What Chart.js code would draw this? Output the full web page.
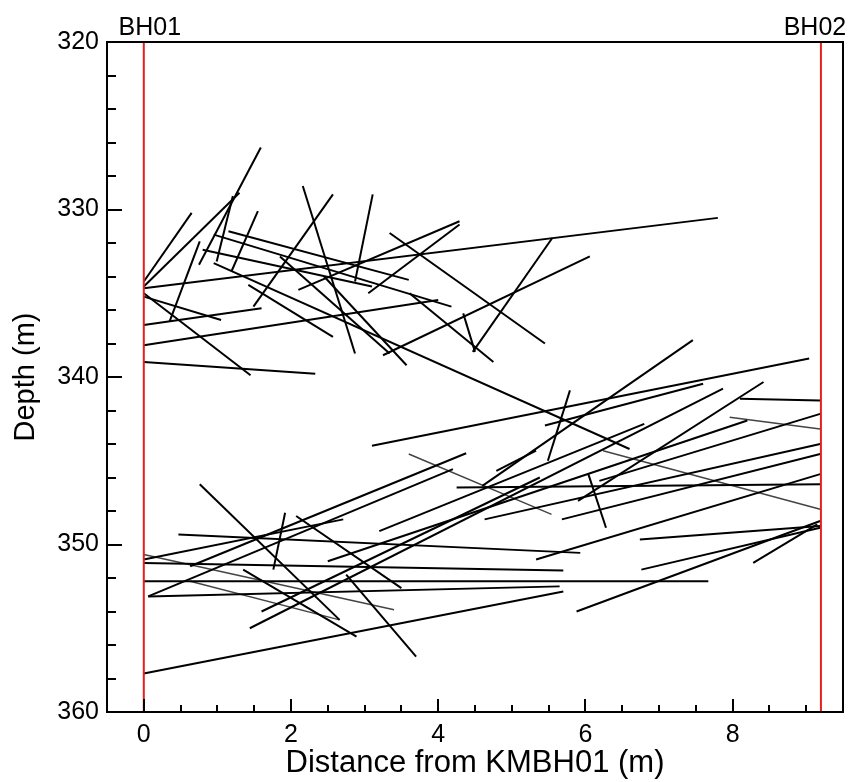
<!DOCTYPE html>
<html>
<head>
<meta charset="utf-8">
<script src="https://cdn.jsdelivr.net/npm/chart.js@4.4.1/dist/chart.umd.min.js"></script>
<style>
  html, body { margin: 0; padding: 0; background: #fff; }
</style>
</head>
<body>
<canvas id="fracChart" width="855" height="782"></canvas>
<script>
// borehole positions along the section (m)
const boreholeX = [0, 9.2];
const boreholeNames = ['BH01', 'BH02'];
const depthRange = [320, 360];
const distRange = [-0.5, 9.5];
const xTicks = [0, 2, 4, 6, 8];
const yTicks = [320, 330, 340, 350, 360];

// fracture traces, each [x0, depth0, x1, depth1]
const upperFractures = [
  [0, 334.7, 7.8, 330.5],
  [0, 334.3, 0.65, 330.2],
  [0, 334.6, 1.3, 329.0],
  [1.59, 326.3, 0.75, 333.3],
  [0.76, 331.9, 0.35, 336.7],
  [1.21, 329.2, 0.99, 333.1],
  [1.55, 330.1, 1.19, 333.7],
  [0, 335.0, 1.45, 339.9],
  [0, 335.2, 1.05, 336.6],
  [0, 336.9, 1.6, 335.9],
  [0, 338.1, 4.0, 335.4],
  [0, 339.1, 2.33, 339.8],
  [2.16, 328.6, 2.87, 338.6],
  [2.57, 329.1, 1.49, 335.8],
  [3.11, 329.1, 2.87, 334.3],
  [4.29, 330.7, 2.1, 334.8],
  [4.29, 330.9, 3.05, 335.0],
  [3.34, 331.4, 5.45, 338.0],
  [5.55, 331.7, 4.47, 338.5],
  [6.06, 332.8, 3.25, 338.7],
  [4.34, 336.2, 4.5, 338.5],
  [3.61, 335.0, 4.75, 339.1],
  [0.95, 333.2, 6.6, 344.3],
  [0.95, 331.5, 4.18, 335.8],
  [1.15, 331.3, 3.6, 334.2],
  [0.8, 332.4, 3.1, 334.6],
  [2.45, 334.0, 3.57, 339.3],
  [1.42, 334.5, 2.57, 337.6],
  [1.85, 332.8, 3.34, 338.6]
];
const lowerFractures = [
  [0, 357.7, 5.7, 352.8],
  [0, 351.1, 5.7, 351.55],
  [0, 352.2, 7.67, 352.2],
  [0.06, 353.1, 5.65, 352.5],
  [0.06, 353.1, 4.2, 345.5],
  [0.47, 349.4, 5.93, 350.5],
  [0.76, 346.4, 2.66, 354.5],
  [1.92, 348.1, 1.76, 351.5],
  [0.63, 351.3, 4.38, 344.55],
  [0, 350.9, 2.71, 348.5],
  [1.44, 355.0, 7.87, 340.7],
  [1.6, 354.0, 5.38, 346.0],
  [3.1, 344.1, 9.04, 338.9],
  [5.45, 342.9, 7.6, 340.4],
  [4.6, 346.5, 7.46, 337.8],
  [5.79, 340.8, 5.49, 345.0],
  [4.79, 345.6, 5.33, 344.4],
  [4.25, 346.6, 9.2, 346.4],
  [4.63, 348.5, 9.19, 344.0],
  [5.68, 348.5, 9.19, 344.6],
  [5.33, 350.9, 9.19, 345.8],
  [6.04, 345.8, 6.28, 349.0],
  [6.19, 346.2, 9.19, 342.2],
  [8.1, 341.3, 9.19, 341.4],
  [5.9, 347.4, 8.42, 340.3],
  [5.88, 354.0, 9.19, 348.6],
  [6.76, 351.5, 9.19, 349.0],
  [8.28, 351.1, 9.15, 348.8],
  [6.74, 349.7, 9.19, 348.9],
  [1.35, 351.5, 2.89, 355.5],
  [2.07, 348.3, 3.5, 352.6],
  [2.75, 351.8, 3.7, 356.7],
  [2.5, 351.0, 8.2, 342.6],
  [3.2, 349.2, 6.8, 342.8]
];
// fainter, thinner traces
const faintFractures = [
  [0, 350.6, 3.4, 353.9],
  [0.63, 352.2, 2.66, 354.5],
  [3.6, 344.6, 5.54, 348.2],
  [6.24, 344.4, 9.19, 347.9],
  [7.96, 342.4, 9.19, 343.1]
];

const FONT = "'Liberation Sans', Arial, sans-serif";

function segDataset(s, color, width) {
  return {
    data: [{x: s[0], y: s[1]}, {x: s[2], y: s[3]}],
    showLine: true,
    borderColor: color,
    borderWidth: width,
    pointRadius: 0,
    fill: false
  };
}

const datasets = [];
// boreholes drawn on top
boreholeX.forEach(bx => {
  datasets.push(segDataset([bx, depthRange[0], bx, depthRange[1]], '#e8201c', 2));
});
upperFractures.concat(lowerFractures).forEach(s => datasets.push(segDataset(s, '#000', 2)));
faintFractures.forEach(s => datasets.push(segDataset(s, '#444', 1.5)));

// frame, inward tick marks and borehole names
const framePlugin = {
  id: 'framePlugin',
  afterDraw(chart) {
    const {ctx, chartArea: a, scales: {x, y}} = chart;
    ctx.save();
    ctx.strokeStyle = '#000';
    ctx.lineWidth = 2;
    ctx.strokeRect(a.left, a.top, a.right - a.left, a.bottom - a.top);

    ctx.beginPath();
    for (let v = 0; v <= 9.01; v += 0.5) {
      const px = Math.round(x.getPixelForValue(v));
      const len = (Math.abs(v % 2) < 0.01) ? 13 : 7;
      ctx.moveTo(px, a.bottom);
      ctx.lineTo(px, a.bottom - len);
    }
    for (let v = 322; v < 360; v += 2) {
      const py = Math.round(y.getPixelForValue(v));
      const len = (v % 10 === 0) ? 15 : 9;
      ctx.moveTo(a.left, py);
      ctx.lineTo(a.left + len, py);
    }
    ctx.stroke();

    ctx.fillStyle = '#000';
    ctx.font = '25px ' + FONT;
    ctx.textBaseline = 'bottom';
    ctx.textAlign = 'center';
    boreholeX.forEach((bx, i) => {
      const px = x.getPixelForValue(bx) + (i === 0 ? 6 : -6);
      ctx.fillText(boreholeNames[i], px, a.top - 1);
    });
    ctx.restore();
  }
};

new Chart(document.getElementById('fracChart'), {
  type: 'scatter',
  data: { datasets: datasets },
  options: {
    responsive: false,
    animation: false,
    layout: { padding: { left: 0, right: 12, top: 42, bottom: 0 } },
    plugins: { legend: { display: false }, tooltip: { enabled: false } },
    scales: {
      x: {
        type: 'linear',
        min: distRange[0],
        max: distRange[1],
        afterBuildTicks: s => { s.ticks = xTicks.map(v => ({ value: v })); },
        afterFit: s => { s.height = 70; },
        grid: { display: false, drawTicks: false },
        border: { display: false },
        ticks: { color: '#000', font: { family: FONT, size: 25 }, padding: 8, maxRotation: 0 },
        title: { display: true, text: 'Distance from KMBH01 (m)', color: '#000',
                 font: { family: FONT, size: 31 }, padding: { top: 0, bottom: 0 } }
      },
      y: {
        type: 'linear',
        reverse: true,
        min: depthRange[0],
        max: depthRange[1],
        afterBuildTicks: s => { s.ticks = yTicks.map(v => ({ value: v })); },
        afterFit: s => { s.width = 107; },
        grid: { display: false, drawTicks: false },
        border: { display: false },
        ticks: { color: '#000', font: { family: FONT, size: 25 }, padding: 8 },
        title: { display: true, text: 'Depth (m)', color: '#000',
                 font: { family: FONT, size: 29 }, padding: { top: 9, bottom: 0 } }
      }
    }
  },
  plugins: [framePlugin]
});
</script>
</body>
</html>
